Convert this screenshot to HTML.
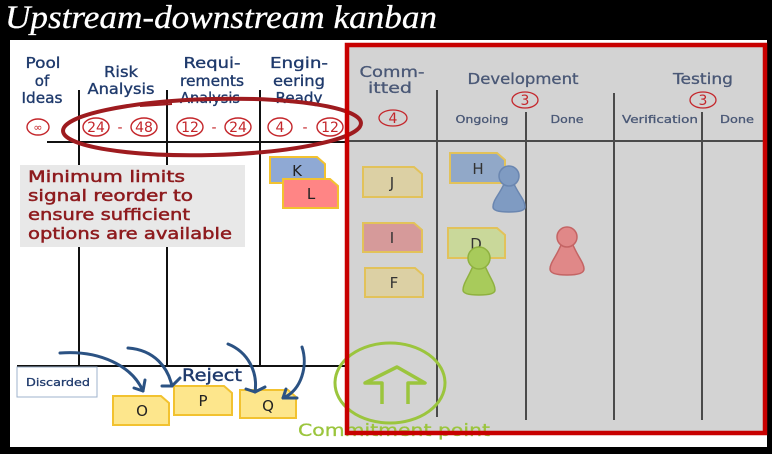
<!DOCTYPE html>
<html><head><meta charset="utf-8"><style>
html,body{margin:0;padding:0;background:#000;}
svg{display:block;}
.h{font-family:"DejaVu Sans","Liberation Sans",sans-serif;fill:#1f3a6c;stroke:#1f3a6c;stroke-width:0.35;font-size:15px;}
.g{font-family:"DejaVu Sans","Liberation Sans",sans-serif;fill:#4a5876;stroke:#4a5876;stroke-width:0.3;}
.r{font-family:"DejaVu Sans","Liberation Sans",sans-serif;fill:#c4262b;font-size:14px;}
.c{font-family:"DejaVu Sans","Liberation Sans",sans-serif;fill:#222;font-size:15px;}
</style></head><body>
<svg width="772" height="454" viewBox="0 0 772 454" xmlns="http://www.w3.org/2000/svg">
<rect x="0" y="0" width="772" height="454" fill="#000"/>
<text x="5" y="28" font-family="Liberation Serif,serif" font-style="italic" font-size="33" fill="#fff" stroke="#fff" stroke-width="0.3" textLength="432" lengthAdjust="spacingAndGlyphs">Upstream-downstream kanban</text>
<rect x="10" y="40" width="757" height="407" fill="#fff"/>

<!-- left grid -->
<g stroke="#111" stroke-width="2" fill="none">
<line x1="79" y1="90" x2="79" y2="366"/>
<line x1="167" y1="90" x2="167" y2="366"/>
<line x1="260" y1="90" x2="260" y2="366"/>
<line x1="47" y1="142" x2="348" y2="142"/>
<line x1="17" y1="366" x2="348" y2="366"/>
</g>

<!-- left headers -->
<g class="h" text-anchor="middle">
<text x="43" y="68" textLength="35" lengthAdjust="spacingAndGlyphs">Pool</text>
<text x="42" y="86">of</text>
<text x="42" y="103" textLength="41" lengthAdjust="spacingAndGlyphs">Ideas</text>
<text x="121" y="77" textLength="34" lengthAdjust="spacingAndGlyphs">Risk</text>
<text x="121" y="94" textLength="67" lengthAdjust="spacingAndGlyphs">Analysis</text>
<text x="212" y="68" textLength="57" lengthAdjust="spacingAndGlyphs">Requi-</text>
<text x="212" y="86" textLength="64" lengthAdjust="spacingAndGlyphs">rements</text>
<text x="210" y="103" textLength="60" lengthAdjust="spacingAndGlyphs">Analysis</text>
<text x="299" y="68" textLength="58" lengthAdjust="spacingAndGlyphs">Engin-</text>
<text x="299" y="86" textLength="52" lengthAdjust="spacingAndGlyphs">eering</text>
<text x="299" y="103" textLength="47" lengthAdjust="spacingAndGlyphs">Ready</text>
</g>

<!-- limits -->
<g stroke="#c4262b" stroke-width="1.4" fill="none">
<ellipse cx="38" cy="127" rx="11" ry="8"/>
<ellipse cx="96" cy="127" rx="13" ry="9"/>
<ellipse cx="144" cy="127" rx="13" ry="9"/>
<ellipse cx="190" cy="127" rx="13" ry="9"/>
<ellipse cx="238" cy="127" rx="13" ry="9"/>
<ellipse cx="280" cy="127" rx="12" ry="9"/>
<ellipse cx="330" cy="127" rx="13" ry="9"/>
</g>
<g class="r" text-anchor="middle">
<text x="38" y="131" font-size="11">∞</text>
<text x="96" y="132">24</text><text x="120" y="132">-</text><text x="144" y="132">48</text>
<text x="190" y="132">12</text><text x="214" y="132">-</text><text x="238" y="132">24</text>
<text x="280" y="132">4</text><text x="305" y="132">-</text><text x="330" y="132">12</text>
</g>

<!-- note -->
<rect x="20" y="165" width="225" height="82" fill="#e8e8e8"/>
<g font-family="DejaVu Sans,Liberation Sans,sans-serif" font-size="16" fill="#8e1b1e" stroke="#8e1b1e" stroke-width="0.5">
<text x="28" y="182" textLength="157" lengthAdjust="spacingAndGlyphs">Minimum limits</text>
<text x="28" y="201" textLength="165" lengthAdjust="spacingAndGlyphs">signal reorder to</text>
<text x="28" y="220" textLength="162" lengthAdjust="spacingAndGlyphs">ensure sufficient</text>
<text x="28" y="239" textLength="204" lengthAdjust="spacingAndGlyphs">options are available</text>
</g>

<!-- K L -->
<path d="M270,157 L317,157 L325,164 L325,183 L270,183 Z" fill="#8fa9d4" stroke="#f2c230" stroke-width="2"/>
<text class="c" x="297" y="176" text-anchor="middle">K</text>
<path d="M283,179 L330,179 L338,186 L338,208 L283,208 Z" fill="#ff8585" stroke="#f2c230" stroke-width="2"/>
<text class="c" x="311" y="199" text-anchor="middle">L</text>

<!-- bottom left -->
<rect x="17" y="367" width="80" height="30" fill="#fff" stroke="#9fb3cc" stroke-width="1"/>
<text x="26" y="386" font-family="DejaVu Sans,Liberation Sans,sans-serif" font-size="11" fill="#1f3a6c" stroke="#1f3a6c" stroke-width="0.3" textLength="64" lengthAdjust="spacingAndGlyphs">Discarded</text>
<text x="182" y="381" font-family="DejaVu Sans,Liberation Sans,sans-serif" font-size="17" fill="#1f3a6c" stroke="#1f3a6c" stroke-width="0.4" textLength="60" lengthAdjust="spacingAndGlyphs">Reject</text>

<g stroke="#f2c230" stroke-width="2">
<path d="M113,396 L161,396 L169,403 L169,425 L113,425 Z" fill="#fde68c"/>
<path d="M174,386 L224,386 L232,393 L232,415 L174,415 Z" fill="#fde68c"/>
<path d="M240,390 L288,390 L296,397 L296,418 L240,418 Z" fill="#fde68c"/>
</g>
<text class="c" x="142" y="416" text-anchor="middle" font-size="16">O</text>
<text class="c" x="203" y="406" text-anchor="middle" font-size="16">P</text>
<text class="c" x="268" y="411" text-anchor="middle" font-size="16">Q</text>

<g stroke="#2b5283" stroke-width="3" fill="none" stroke-linecap="round">
<path d="M60,353 C100,350 132,366 143,391"/>
<path d="M143,391 L145,380 M143,391 L134,388"/>
<path d="M128,348 C155,350 168,368 172,386"/>
<path d="M172,386 L180,378 M172,386 L162,386"/>
<path d="M228,344 C248,352 258,372 255,392"/>
<path d="M255,392 L246,389 M255,392 L265,387"/>
<path d="M302,347 C308,365 302,390 283,398"/>
<path d="M283,398 L297,398 M283,398 L286,389"/>
</g>

<!-- committed region -->
<rect x="347" y="45" width="418" height="388" fill="#d3d3d3"/>
<g stroke="#4a4a4a" stroke-width="2" fill="none">
<line x1="437" y1="90" x2="437" y2="417"/>
<line x1="526" y1="112" x2="526" y2="420"/>
<line x1="614" y1="93" x2="614" y2="420"/>
<line x1="702" y1="112" x2="702" y2="420"/>
<line x1="348" y1="141" x2="763" y2="141"/>
</g>
<g class="g">
<text x="392" y="77" font-size="15" text-anchor="middle" textLength="65" lengthAdjust="spacingAndGlyphs">Comm-</text>
<text x="390" y="93" font-size="15" text-anchor="middle" textLength="44" lengthAdjust="spacingAndGlyphs">itted</text>
<text x="523" y="84" font-size="15" text-anchor="middle" textLength="111" lengthAdjust="spacingAndGlyphs">Development</text>
<text x="703" y="84" font-size="15" text-anchor="middle" textLength="60" lengthAdjust="spacingAndGlyphs">Testing</text>
<text x="482" y="123" font-size="11" text-anchor="middle" textLength="53" lengthAdjust="spacingAndGlyphs">Ongoing</text>
<text x="567" y="123" font-size="11" text-anchor="middle" textLength="33" lengthAdjust="spacingAndGlyphs">Done</text>
<text x="660" y="123" font-size="11" text-anchor="middle" textLength="76" lengthAdjust="spacingAndGlyphs">Verification</text>
<text x="737" y="123" font-size="11" text-anchor="middle" textLength="34" lengthAdjust="spacingAndGlyphs">Done</text>
</g>
<g stroke="#c4262b" stroke-width="1.3" fill="none">
<ellipse cx="393" cy="118" rx="14" ry="8"/>
<ellipse cx="525" cy="100" rx="13" ry="8"/>
<ellipse cx="703" cy="100" rx="13" ry="8"/>
</g>
<g class="r" text-anchor="middle">
<text x="393" y="123">4</text>
<text x="525" y="105">3</text>
<text x="703" y="105">3</text>
</g>

<!-- cards in committed -->
<g stroke="#e2c25a" stroke-width="2">
<path d="M363,167 L414,167 L422,174 L422,197 L363,197 Z" fill="#dcd0a4"/>
<path d="M363,223 L414,223 L422,230 L422,252 L363,252 Z" fill="#d69a9a"/>
<path d="M365,268 L415,268 L423,275 L423,297 L365,297 Z" fill="#dcd0a4"/>
<path d="M450,153 L497,153 L505,160 L505,183 L450,183 Z" fill="#91a8c8"/>
<path d="M448,228 L497,228 L505,235 L505,258 L448,258 Z" fill="#c9d89a"/>
</g>
<g class="c" text-anchor="middle">
<text x="392" y="188" fill="#333">J</text>
<text x="392" y="243" fill="#333">I</text>
<text x="394" y="288" fill="#333">F</text>
<text x="478" y="174" fill="#333">H</text>
<text x="476" y="249" fill="#333">D</text>
</g>

<!-- pawns -->
<g stroke-width="1.5">
<path d="M504,184 C499,195 493,200 493,207 Q493,212 509,212 Q525,212 525,207 C525,200 519,195 514,184 Z" fill="#7f9bc2" stroke="#6a86b0"/>
<circle cx="509" cy="176" r="10" fill="#7f9bc2" stroke="#6a86b0"/>
<path d="M473,266 C468,278 463,284 463,290 Q463,295 479,295 Q495,295 495,290 C495,284 490,278 485,266 Z" fill="#a8cb5b" stroke="#8fb13f"/>
<circle cx="479" cy="258" r="11" fill="#a8cb5b" stroke="#8fb13f"/>
<path d="M561,245 C556,257 550,263 550,269 Q550,275 567,275 Q584,275 584,269 C584,263 578,257 573,245 Z" fill="#e08888" stroke="#c46464"/>
<circle cx="567" cy="237" r="10" fill="#e08888" stroke="#c46464"/>
</g>

<!-- big red ellipse -->
<ellipse cx="212" cy="127" rx="149" ry="28" fill="none" stroke="#9e1b1f" stroke-width="4" transform="rotate(-1.5 212 127)"/>
<path d="M140,106 L172,104" stroke="#9e1b1f" stroke-width="2"/>

<!-- commitment point -->
<ellipse cx="390" cy="383" rx="55" ry="40" fill="none" stroke="#9bc53d" stroke-width="3"/>
<polyline points="382,404 382,383 365,383 397,367 425,383 408,383 408,404" fill="none" stroke="#9bc53d" stroke-width="3.5" stroke-linejoin="round"/>
<text x="298" y="436" font-family="DejaVu Sans,Liberation Sans,sans-serif" font-size="17" fill="#9bc53d" stroke="#9bc53d" stroke-width="0.3" textLength="192" lengthAdjust="spacingAndGlyphs">Commitment point</text>

<!-- red border -->
<rect x="347" y="45" width="418" height="388" fill="none" stroke="#c80000" stroke-width="4.5"/>
</svg>
</body></html>
